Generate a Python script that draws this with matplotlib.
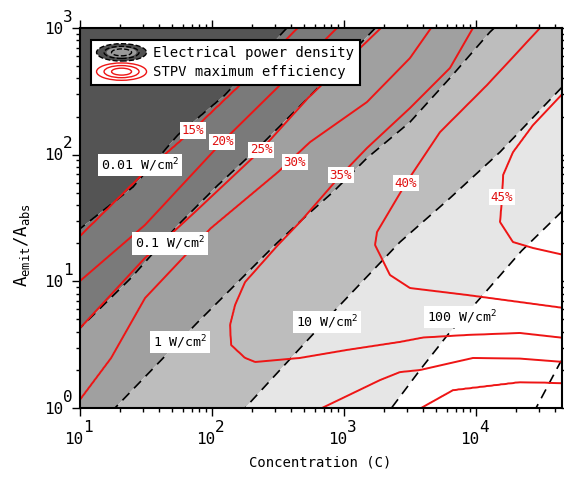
import numpy as np
import matplotlib
matplotlib.use('Agg')
import matplotlib.pyplot as plt
from matplotlib.legend_handler import HandlerBase
from matplotlib.patches import Ellipse, Patch
from matplotlib.ticker import NullFormatter
from matplotlib.transforms import blended_transform_factory, offset_copy

plt.rcParams['font.family'] = ['DejaVu Sans Mono', 'DejaVu Sans']
plt.rcParams['mathtext.fontset'] = 'custom'
plt.rcParams['mathtext.rm'] = 'DejaVu Sans Mono'
plt.rcParams['mathtext.it'] = 'DejaVu Sans Mono'

# ---- electrical power density iso-lines (log10 A, log10 C) ----
p_levels = [-2, -1, 0, 1, 2, 3]          # log10 of W/cm^2
p001_a = [-0.1, 1.421, 1.744, 2.155, 2.470, 3.0, 3.1]
p001_c = [-0.45, 1.008, 1.402, 1.742, 2.098, 2.568, 2.67]
p01_a = [-0.1, 0.639, 1.026, 1.444, 1.760, 2.052, 2.447, 2.849, 3.1]
p01_c = [0.30, 1.008, 1.386, 1.742, 2.045, 2.348, 2.727, 3.098, 3.33]
p1_a = [-0.1, 0.0, 0.671, 1.302, 1.523, 1.705, 1.973, 2.257, 2.605, 2.968, 3.1]
p1_c = [1.16, 1.265, 1.886, 2.492, 2.72, 2.917, 3.174, 3.5, 3.803, 4.106, 4.24]
p10_a = [-0.1, 0.0, 0.30, 0.813, 1.31, 1.657, 2.02, 2.549, 3.1]
p10_c = [2.15, 2.25, 2.515, 2.97, 3.424, 3.803, 4.182, 4.667, 5.2]
p100_a = [-0.1, 0.0, 0.30, 0.57, 0.9, 1.24, 1.54, 3.1]
p100_c = [3.27, 3.36, 3.576, 3.78, 4.06, 4.345, 4.64, 5.9]
p1000_a = [-0.1, 0.0, 0.363, 3.1]
p1000_c = [4.38, 4.455, 4.64, 7.0]

# ---- STPV maximum efficiency iso-lines (%) ----
e_levels = [15, 20, 25, 30, 35, 40, 45]
# diagonal side: log10 C where each level is met, per log10 A
e15_a = [-0.1, 1.365, 1.863, 2.194, 2.51, 3.0, 3.1]
e15_c = [-0.45, 1.008, 1.492, 1.856, 2.174, 2.652, 2.75]
e20_a = [-0.1, 1.01, 1.444, 2.099, 2.51, 3.0, 3.1]
e20_c = [-0.1, 1.008, 1.492, 2.076, 2.477, 2.947, 3.04]
e25_a = [-0.1, 0.639, 1.184, 1.547, 2.036, 2.447, 3.0, 3.1]
e25_c = [0.35, 1.008, 1.492, 1.871, 2.371, 2.727, 3.28, 3.38]
e30_a = [-0.1, 0.079, 0.395, 0.868, 1.421, 1.863, 2.099, 2.415, 2.762, 3.0, 3.1]
e30_c = [0.88, 1.008, 1.235, 1.492, 1.992, 2.5, 2.742, 3.174, 3.5, 3.66, 3.75]
e35_a = [-0.1, 0.0, 0.18, 0.363, 0.395, 0.497, 0.655, 0.813, 0.994, 1.287, 1.468,
         1.839, 2.052, 2.368, 2.684, 3.0, 3.1]
e35_c = [3.3, 3.12, 2.667, 2.326, 2.25, 2.144, 2.136, 2.174, 2.25, 2.5, 2.667,
         2.977, 3.174, 3.5, 3.803, 3.977, 4.06]
e40_a = [-0.1, 0.379, 0.616, 0.813, 0.947, 1.05, 1.287, 1.389, 1.776, 2.178, 2.549, 3.0, 3.1]
e40_c = [5.6, 4.667, 4.182, 3.803, 3.5, 3.348, 3.235, 3.25, 3.47, 3.727, 4.083, 4.485, 4.57]
e45_a = [-0.1, 1.13, 1.208, 1.263, 1.31, 1.468, 1.657, 1.839, 2.02, 2.234, 2.494, 3.1]
e45_c = [6.0, 4.94, 4.667, 4.432, 4.28, 4.182, 4.197, 4.205, 4.28, 4.432, 4.667, 5.4]
# low-area side: log10 A where each level is met, per log10 C
b_levels = [20, 25, 30, 35, 40, 45]
b20_c = [0.5, 4.0, 4.667, 6.0]
b20_a = [-2.0, -0.6, -0.3, -0.3]
b25_c = [0.5, 3.0, 3.5, 3.583, 3.826, 4.333, 4.667, 6.0]
b25_a = [-1.3, -0.5, -0.04, 0.0, 0.142, 0.205, 0.197, 0.15]
b30_c = [0.5, 2.5, 2.833, 3.273, 3.424, 3.576, 3.977, 4.333, 4.667, 6.0]
b30_a = [-0.7, -0.2, 0.0, 0.221, 0.284, 0.3, 0.395, 0.39, 0.363, 0.3]
b35_c = [0.5, 1.0, 2.326, 2.667, 3.023, 3.424, 3.6, 3.932, 4.333, 4.667, 6.0]
b35_a = [0.33, 0.33, 0.363, 0.395, 0.458, 0.521, 0.556, 0.576, 0.592, 0.553, 0.5]
b40_c = [0.5, 1.0, 2.667, 3.5, 3.932, 4.667, 6.0]
b40_a = [1.05, 1.05, 1.01, 0.947, 0.892, 0.789, 0.7]
b45_c = [0.5, 1.0, 3.42, 4.03, 4.432, 4.667, 6.0]
b45_a = [1.5, 1.48, 1.40, 1.33, 1.24, 1.19, 1.15]

# label positions (C, A)
p_text = ['0.01 W/cm$^{2}$', '0.1 W/cm$^{2}$', '1 W/cm$^{2}$', '10 W/cm$^{2}$', '100 W/cm$^{2}$']
p_lab_c = [28.5, 48, 57.3, 743, 7830]
p_lab_a = [82.8, 20.0, 3.32, 4.77, 5.23]
e_text = ['15%', '20%', '25%', '30%', '35%', '40%', '45%']
e_lab_c = [71.8, 119, 235, 425, 948, 2950, 15700]
e_lab_a = [156, 126, 109, 87.5, 69, 59.7, 46.3]

grays = ['#545454', '#7a7a7a', '#a0a0a0', '#bdbdbd', '#e6e6e6', '#ffffff', '#ffffff']

gx = np.linspace(1.0, 4.652, 600)
gy = np.linspace(0.0, 3.0, 450)


def along_rows(lines, levels, lo, hi):
    z = np.empty((gy.size, gx.size))
    for i, y in enumerate(gy):
        xs = [np.interp(y, a, c) for a, c in lines]
        z[i] = np.interp(gx, [lo[0]] + xs + [hi[0]], [lo[1]] + levels + [hi[1]])
    return z


def along_cols(lines, levels, lo, hi):
    z = np.empty((gy.size, gx.size))
    for j, x in enumerate(gx):
        ys = [np.interp(x, c, a) for c, a in lines]
        z[:, j] = np.interp(gy, [lo[0]] + ys + [hi[0]], [lo[1]] + levels + [hi[1]])
    return z


power = along_rows([(p001_a, p001_c), (p01_a, p01_c), (p1_a, p1_c), (p10_a, p10_c),
                    (p100_a, p100_c), (p1000_a, p1000_c)], p_levels, (-5, -6), (12, 8))
eff_d = along_rows([(e15_a, e15_c), (e20_a, e20_c), (e25_a, e25_c), (e30_a, e30_c),
                    (e35_a, e35_c), (e40_a, e40_c), (e45_a, e45_c)], e_levels, (-4, 0), (9, 60))
eff_b = along_cols([(b20_c, b20_a), (b25_c, b25_a), (b30_c, b30_a), (b35_c, b35_a),
                    (b40_c, b40_a), (b45_c, b45_a)], b_levels, (-5, 0), (6, 60))
eff = np.minimum(eff_d, eff_b)

C = 10 ** gx
A = 10 ** gy


class Rings(HandlerBase):
    def __init__(self, edge, face=None, inner=None, ls='-'):
        super().__init__()
        self.edge, self.face, self.inner, self.ls = edge, face, inner, ls

    def create_artists(self, legend, orig_handle, xdescent, ydescent, width, height, fontsize, trans):
        cx, cy = 0.5 * width - xdescent, 0.5 * height - ydescent
        h = height * 1.3
        arts = []
        if self.face:
            arts.append(Ellipse((cx, cy), width, h, fc=self.face, ec='none', transform=trans))
        if self.inner:
            arts.append(Ellipse((cx, cy), width * 0.6, h * 0.6, fc=self.inner, ec='none', transform=trans))
        for f in (1.0, 0.7, 0.4):
            arts.append(Ellipse((cx, cy), width * f, h * f, fill=False, ec=self.edge, lw=1.0,
                                ls=self.ls, transform=trans))
        return arts


fig = plt.figure(figsize=(5.64, 4.79), dpi=100)
ax = fig.add_axes([80 / 564, 1 - 408 / 479, 482 / 564, 380 / 479])
ax.set_xscale('log')
ax.set_yscale('log')

ax.contourf(C, A, power, levels=[-6] + p_levels + [8], colors=grays, antialiased=True)
cs = ax.contour(C, A, power, levels=p_levels, colors='black', linewidths=1.2)
cs.set_linestyle((0, (6, 4)))
ax.contour(C, A, eff, levels=e_levels, colors='#ee1515', linewidths=1.4)

for t, c, a in zip(p_text, p_lab_c, p_lab_a):
    ax.text(c, a, t, ha='center', va='center', fontsize=9.5, color='black', zorder=5,
            bbox=dict(boxstyle='square,pad=0.2', fc='white', ec='none'))
for t, c, a in zip(e_text, e_lab_c, e_lab_a):
    ax.text(c, a, t, ha='center', va='center', fontsize=9, color='#e01010', zorder=5,
            bbox=dict(boxstyle='square,pad=0.15', fc='white', ec='none'))

ax.set_xlim(10, 10 ** 4.652)
ax.set_ylim(1, 1000)
ax.xaxis.set_major_formatter(NullFormatter())
ax.xaxis.set_minor_formatter(NullFormatter())
ax.yaxis.set_major_formatter(NullFormatter())
ax.yaxis.set_minor_formatter(NullFormatter())
ax.tick_params(which='both', direction='out', top=True, right=True, width=1.0)
ax.tick_params(which='major', length=6)
ax.tick_params(which='minor', length=3)
for s in ax.spines.values():
    s.set_linewidth(1.5)

tx = blended_transform_factory(ax.transData, ax.transAxes)
for e in [1, 2, 3, 4]:
    ax.text(10 ** e, 0, '10', transform=offset_copy(tx, fig=fig, x=3, y=-32, units='dots'),
            ha='right', va='center', fontsize=11.5)
    ax.text(10 ** e, 0, str(e), transform=offset_copy(tx, fig=fig, x=3, y=-20, units='dots'),
            ha='left', va='center', fontsize=11.5)
ty = blended_transform_factory(ax.transAxes, ax.transData)
for e in [0, 1, 2, 3]:
    ax.text(0, 10 ** e, '10', transform=offset_copy(ty, fig=fig, x=-17, y=-1, units='dots'),
            ha='right', va='center', fontsize=11.5)
    ax.text(0, 10 ** e, str(e), transform=offset_copy(ty, fig=fig, x=-17, y=11, units='dots'),
            ha='left', va='center', fontsize=11.5)

fig.text(320 / 564, 1 - 463 / 479, 'Concentration (C)', ha='center', va='center', fontsize=10)
fig.text(22 / 564, 1 - 245 / 479, r'$A_{emit}/A_{abs}$', ha='center', va='center',
         rotation=90, fontsize=12.5)

h1 = Patch()
h2 = Patch()
leg = ax.legend([h1, h2], ['Electrical power density', 'STPV maximum efficiency'],
                handler_map={h1: Rings('black', face='#505050', inner='#9a9a9a', ls='--'),
                             h2: Rings('#ee1515')},
                loc='upper left', bbox_to_anchor=(0.0228, 0.968), borderaxespad=0,
                fontsize=10, handlelength=3.6, handleheight=1.1, handletextpad=0.5,
                borderpad=0.4, labelspacing=0.35, fancybox=False, framealpha=1,
                edgecolor='black')
leg.get_frame().set_linewidth(1.5)
leg.set_zorder(10)

fig.savefig('out.png', dpi=100)
